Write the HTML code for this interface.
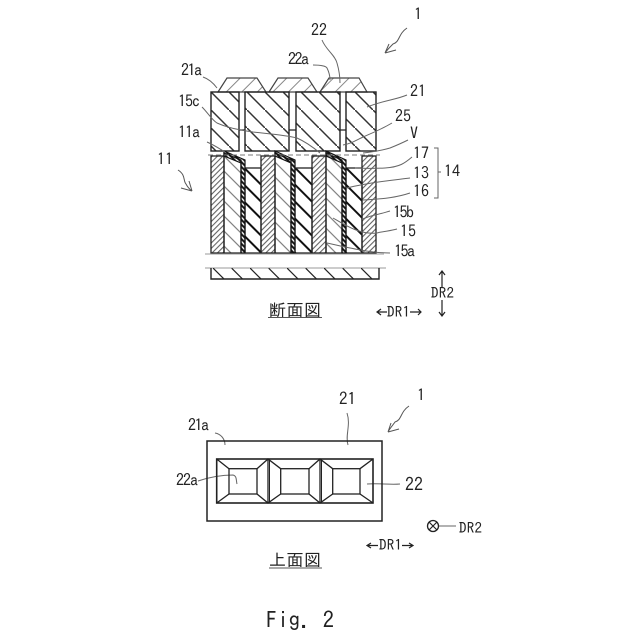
<!DOCTYPE html>
<html><head><meta charset="utf-8"><style>
html,body{margin:0;padding:0;background:#fff}
svg{display:block}
text{font-family:"IPAGothic","Noto Sans CJK JP",sans-serif;fill:#222;font-size:16px}
</style></head><body>
<svg width="640" height="640" viewBox="0 0 640 640" xmlns="http://www.w3.org/2000/svg">
<defs>
<pattern id="big" width="18" height="18" patternUnits="userSpaceOnUse" patternTransform="translate(211 92)">
<path d="M-5 -5L23 23" stroke="#333" stroke-width="1.5"/>
</pattern>
<pattern id="lens" width="11" height="11" patternUnits="userSpaceOnUse" patternTransform="rotate(-45)">
<path d="M0 5H11" stroke="#888" stroke-width="1"/>
</pattern>
<pattern id="fine" width="3.8" height="3.8" patternUnits="userSpaceOnUse" patternTransform="rotate(-45)">
<path d="M0 2H3.8" stroke="#555" stroke-width="1"/>
</pattern>
<pattern id="med" width="10.6" height="10.6" patternUnits="userSpaceOnUse" patternTransform="rotate(45)">
<path d="M0 5H10.6" stroke="#666" stroke-width="1"/>
</pattern>
<pattern id="thick" width="12" height="12" patternUnits="userSpaceOnUse" patternTransform="rotate(45)">
<path d="M0 6H12" stroke="#111" stroke-width="2"/>
</pattern>
<pattern id="thin" width="3.4" height="3.4" patternUnits="userSpaceOnUse" patternTransform="rotate(45)">
<path d="M0 1.700H3.4" stroke="#111" stroke-width="2"/>
</pattern>
<pattern id="sub" width="18.5" height="18.5" patternUnits="userSpaceOnUse" patternTransform="translate(213 268)">
<path d="M0 0L18.5 18.5" stroke="#222" stroke-width="1.2"/>
</pattern>
</defs>

<!-- lenses -->
<g stroke="#444" stroke-width="1.2" fill="url(#lens)">
<path d="M218 92L227 78H257L266 92Z"/>
<path d="M269 92L278 78H308L317 92Z"/>
<path d="M320 92L329 78H359L367 92Z"/>
</g>

<!-- upper blocks -->
<g stroke="#222" stroke-width="1.4" fill="url(#big)">
<rect x="211" y="92" width="28" height="59"/>
<rect x="245" y="92" width="44" height="59"/>
<rect x="296" y="92" width="44" height="59"/>
<rect x="346" y="92" width="30" height="59"/>
</g>
<path d="M239 130H245M289 130H296M340 130H346" stroke="#222" stroke-width="1.2"/>

<!-- lower structure -->
<g stroke="#222" stroke-width="1.3">
<rect x="211" y="156" width="13" height="97" fill="url(#fine)"/>
<rect x="261" y="156" width="14" height="97" fill="url(#fine)"/>
<rect x="312" y="156" width="14" height="97" fill="url(#fine)"/>
<rect x="362" y="156" width="14" height="97" fill="url(#fine)"/>
<path d="M224 253V153L241 160V253Z" fill="url(#med)"/>
<path d="M275 253V153L291 160V253Z" fill="url(#med)"/>
<path d="M326 253V153L342 160V253Z" fill="url(#med)"/>
<rect x="245" y="168" width="16" height="85" fill="url(#thick)"/>
<rect x="295" y="168" width="17" height="85" fill="url(#thick)"/>
<rect x="346" y="168" width="16" height="85" fill="url(#thick)"/>
</g>
<g stroke="#111" stroke-width="1.2" fill="url(#thin)">
<path d="M224 151L245 160V253H241V163L224 156Z"/>
<path d="M275 151L295 160V253H291V163L275 156Z"/>
<path d="M326 151L346 160V253H342V163L326 156Z"/>
</g>
<path d="M208 155H380" stroke="#777" stroke-width="1" stroke-dasharray="5 3"/>
<path d="M205 254H384M205 268H386" stroke="#999" stroke-width="1"/>

<!-- substrate -->
<path d="M211 268V279H379V268" fill="url(#sub)" stroke="#222" stroke-width="1.4"/>

<!-- leaders -->
<g fill="none" stroke="#666" stroke-width="1">
<path d="M322 40C326 50 335 55 337 63C339 70 340 76 340 83"/>
<path d="M313 65C320 65 326 66 327 68C329 72 330 76 330 80"/>
<path d="M203 77C209 79 214 84 217 88"/>
<path d="M407 95C395 100 385 100 367 107"/>
<path d="M202 107C208 113 212 120 217 123C228 128 240 130 253 132C270 134 285 135 297 138C306 142 314 148 320 153"/>
<path d="M207 142C214 145 220 149 225 152"/>
<path d="M392 123C380 130 370 134 363 137C355 141 350 144 343 145"/>
<path d="M408 140C400 144 395 146 390 148C380 151 372 152 363 153"/>
<path d="M412 157C405 163 400 167 385 168C370 169 360 168 355 168"/>
<path d="M410 178C395 180 370 182 347 188"/>
<path d="M410 193C398 197 385 199 363 200"/>
<path d="M390 211C383 213 380 214 375 215C370 216 366 218 362 219"/>
<path d="M397 229C390 231 385 231 377 233C360 235 345 225 333 218"/>
<path d="M390 253C370 253 345 247 327 243"/>
<path d="M434 148H438V198H434"/>
<path d="M438 172H441"/>
<path d="M347 413C351 425 345 435 348 445"/>
<path d="M215 433C221 434 225 439 225 445"/>
<path d="M198 481C210 477 222 475 233 475C237 476 236 480 237 484"/>
<path d="M367 484C378 483 390 485 400 484"/>
<path d="M439 526H456"/>
</g>
<g fill="none" stroke="#555" stroke-width="1">
<path d="M178 170C186 175 183 181 186 184C187 186 188 188 192 191M192 191L181 188M192 191L189 181"/>
<path d="M407 28C398 34 400 42 393 44C390 47 387 50 385 53M385 53L396 50M385 53L389 44"/>
<path d="M409 406C400 412 402 420 395 422C393 425 390 428 388 432M388 432L399 429M388 432L391 423"/>
</g>

<!-- labels -->
<text x="311" y="36">22</text>
<text x="414" y="20">1</text>
<text x="288" y="65" textLength="21">22a</text>
<text x="181" y="76" textLength="21">21a</text>
<text x="410" y="97">21</text>
<text x="178" y="107" textLength="22">15c</text>
<text x="395" y="122">25</text>
<text x="410" y="139">V</text>
<text x="178" y="138" textLength="22">11a</text>
<text x="413" y="159">17</text>
<text x="157" y="165">11</text>
<text x="413" y="179">13</text>
<text x="413" y="197">16</text>
<text x="444" y="177">14</text>
<text x="393" y="218" textLength="21">15b</text>
<text x="400" y="237">15</text>
<text x="394" y="257" textLength="21">15a</text>
<text x="269" y="316" style="font-size:17px;letter-spacing:0.500px">断面図</text>
<text x="387" y="317" style="font-size:15px" textLength="23">DR1</text>
<text x="431" y="298" style="font-size:15px" textLength="23">DR2</text>
<path d="M268 317.500H322" stroke="#555" stroke-width="1"/>

<!-- direction arrows top -->
<g fill="none" stroke="#222" stroke-width="1.2">
<path d="M377 312H387M381 309L377 312L381 315M410 312H421M418 309L421 312L418 315"/>
<path d="M442 271V287M439 275L442 271L445 275M442 300V316M439 312L442 316L445 312"/>
</g>

<!-- top view -->
<rect x="207" y="441" width="175" height="80" fill="none" stroke="#222" stroke-width="1.5"/>
<g fill="none" stroke="#222" stroke-width="1.3">
<rect x="216.700" y="459" width="156.300" height="44" stroke-width="1.600"/>
<rect x="229" y="468.700" width="28" height="25.300"/>
<rect x="280.700" y="468.700" width="28.300" height="25.300"/>
<rect x="332.700" y="468.700" width="27.300" height="25.300"/>
<path d="M216.700 459L229 468.700M216.700 503L229 494M373 459L360 468.700M373 503L360 494"/>
<path d="M257 468.700L268 459L280.700 468.700M257 494L268 503L280.700 494M268 459V503"/>
<path d="M269.500 459V503" stroke-width="1"/>
<path d="M309 468.700L320 459L332.700 468.700M309 494L320 503L332.700 494M320 459V503"/>
<path d="M321.500 459V503" stroke-width="1"/>
</g>

<text x="188" y="431" textLength="21">21a</text>
<text x="339" y="405" style="font-size:17px">21</text>
<text x="417" y="401">1</text>
<text x="176" y="486" textLength="22">22a</text>
<text x="405" y="491" style="font-size:18px">22</text>
<text x="459" y="533" style="font-size:15px" textLength="23">DR2</text>
<circle cx="433" cy="526" r="5.500" fill="none" stroke="#222" stroke-width="1.3"/>
<path d="M429 522L437 530M437 522L429 530" stroke="#222" stroke-width="1.2"/>
<text x="379" y="550" style="font-size:15px" textLength="23">DR1</text>
<path d="M367 545.500H378M371 543L367 545.500L371 548M402 545.500H413M409 543L413 545.500L409 548" fill="none" stroke="#222" stroke-width="1.2"/>
<text x="269" y="566" style="font-size:17px;letter-spacing:0.500px">上面図</text>
<path d="M269 568H322" stroke="#555" stroke-width="1"/>

<text x="266" y="628" style="font-size:22.500px" textLength="68">Fig. 2</text>
</svg>
</body></html>
